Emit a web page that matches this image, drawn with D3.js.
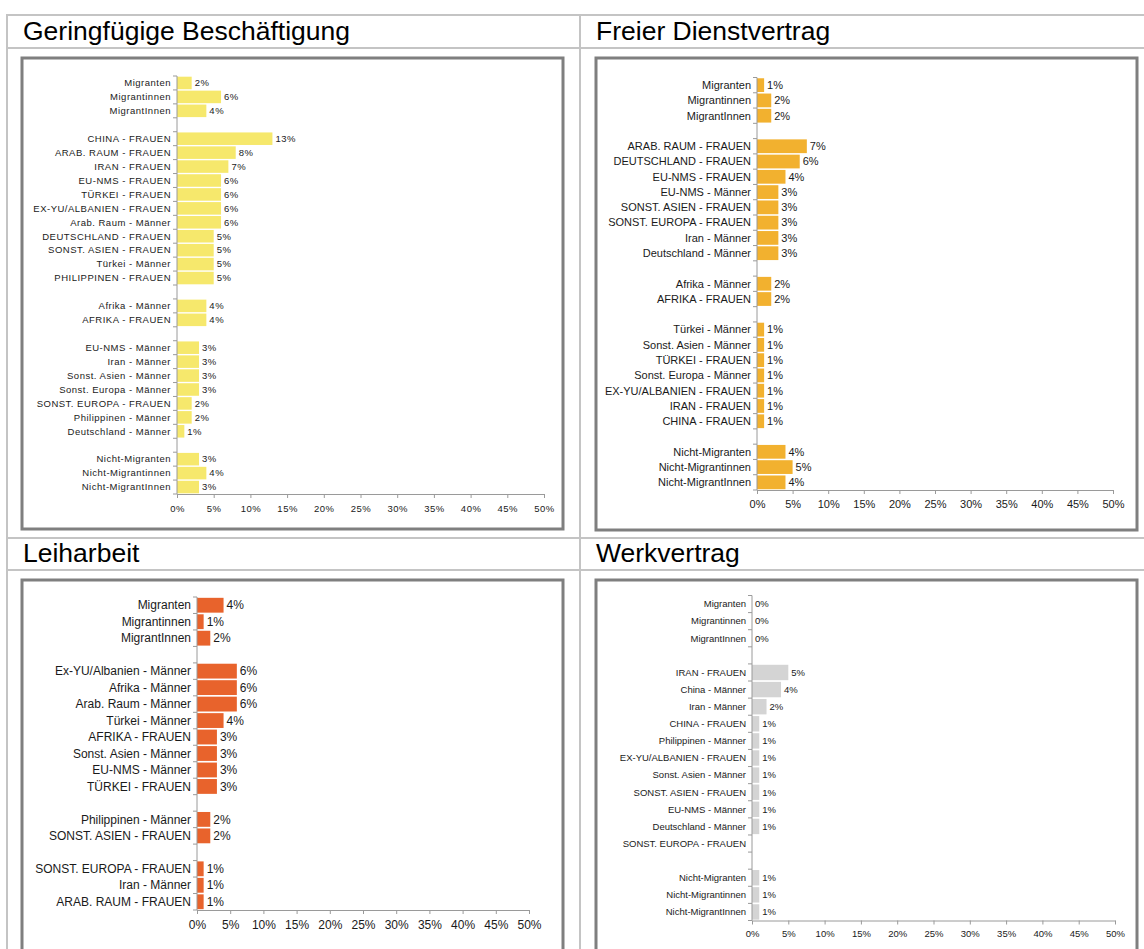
<!DOCTYPE html>
<html>
<head>
<meta charset="utf-8">
<style>
  body { margin: 0; background: #fff; }
  svg { display: block; font-family: "Liberation Sans", Arial, sans-serif; }
  .axis line, .axis path { stroke: #9a9a9a; }
</style>
</head>
<body>
<svg width="1144" height="949"></svg>
<script src="https://d3js.org/d3.v7.min.js"></script>
<script>

// ---- data (empty label = blank spacer row) ----
var geringLabels = ["Migranten", "Migrantinnen", "MigrantInnen", "",
  "CHINA - FRAUEN", "ARAB. RAUM - FRAUEN", "IRAN - FRAUEN", "EU-NMS - FRAUEN", "TÜRKEI - FRAUEN",
  "EX-YU/ALBANIEN - FRAUEN", "Arab. Raum - Männer", "DEUTSCHLAND - FRAUEN", "SONST. ASIEN - FRAUEN",
  "Türkei - Männer", "PHILIPPINEN - FRAUEN", "",
  "Afrika - Männer", "AFRIKA - FRAUEN", "",
  "EU-NMS - Männer", "Iran - Männer", "Sonst. Asien - Männer", "Sonst. Europa - Männer",
  "SONST. EUROPA - FRAUEN", "Philippinen - Männer", "Deutschland - Männer", "",
  "Nicht-Migranten", "Nicht-Migrantinnen", "Nicht-MigrantInnen"];
var geringValues = [2, 6, 4, null,
  13, 8, 7, 6, 6, 6, 6, 5, 5, 5, 5, null,
  4, 4, null,
  3, 3, 3, 3, 2, 2, 1, null,
  3, 4, 3];

var freierLabels = ["Migranten", "Migrantinnen", "MigrantInnen", "",
  "ARAB. RAUM - FRAUEN", "DEUTSCHLAND - FRAUEN", "EU-NMS - FRAUEN", "EU-NMS - Männer",
  "SONST. ASIEN - FRAUEN", "SONST. EUROPA - FRAUEN", "Iran - Männer", "Deutschland - Männer", "",
  "Afrika - Männer", "AFRIKA - FRAUEN", "",
  "Türkei - Männer", "Sonst. Asien - Männer", "TÜRKEI - FRAUEN", "Sonst. Europa - Männer",
  "EX-YU/ALBANIEN - FRAUEN", "IRAN - FRAUEN", "CHINA - FRAUEN", "",
  "Nicht-Migranten", "Nicht-Migrantinnen", "Nicht-MigrantInnen"];
var freierValues = [1, 2, 2, null,
  7, 6, 4, 3, 3, 3, 3, 3, null,
  2, 2, null,
  1, 1, 1, 1, 1, 1, 1, null,
  4, 5, 4];

var leihLabels = ["Migranten", "Migrantinnen", "MigrantInnen", "",
  "Ex-YU/Albanien - Männer", "Afrika - Männer", "Arab. Raum - Männer", "Türkei - Männer",
  "AFRIKA - FRAUEN", "Sonst. Asien - Männer", "EU-NMS - Männer", "TÜRKEI - FRAUEN", "",
  "Philippinen - Männer", "SONST. ASIEN - FRAUEN", "",
  "SONST. EUROPA - FRAUEN", "Iran - Männer", "ARAB. RAUM - FRAUEN"];
var leihValues = [4, 1, 2, null,
  6, 6, 6, 4, 3, 3, 3, 3, null,
  2, 2, null,
  1, 1, 1];

var werkLabels = ["Migranten", "Migrantinnen", "MigrantInnen", "",
  "IRAN - FRAUEN", "China - Männer", "Iran - Männer", "CHINA - FRAUEN", "Philippinen - Männer",
  "EX-YU/ALBANIEN - FRAUEN", "Sonst. Asien - Männer", "SONST. ASIEN - FRAUEN", "EU-NMS - Männer",
  "Deutschland - Männer", "SONST. EUROPA - FRAUEN", "",
  "Nicht-Migranten", "Nicht-Migrantinnen", "Nicht-MigrantInnen"];
var werkValues = [0, 0, 0, null,
  5, 4, 2, 1, 1, 1, 1, 1, 1, 1, null, null,
  1, 1, 1];

var xTicks = [0, 5, 10, 15, 20, 25, 30, 35, 40, 45, 50];
var titles = ["Geringfügige Beschäftigung", "Freier Dienstvertrag", "Leiharbeit", "Werkvertrag"];

var svg = d3.select("svg");

// ---- table grid + titles ----
var grid = svg.append("g").attr("stroke", "#c4c4c4").attr("stroke-width", 2);
[15, 48, 538, 570].forEach(function(y) {
  grid.append("line").attr("x1", 7).attr("x2", 1144).attr("y1", y).attr("y2", y);
});
[7, 580].forEach(function(x) {
  grid.append("line").attr("x1", x).attr("x2", x).attr("y1", 14).attr("y2", 949);
});

svg.selectAll(".title")
  .data(titles)
  .enter().append("text")
  .attr("class", "title")
  .attr("x", function(d, i) { return i % 2 ? 596 : 23; })
  .attr("y", function(d, i) { return i < 2 ? 40 : 562; })
  .style("font-size", "26.5px")
  .attr("fill", "#000")
  .text(function(d) { return d; });

// frames
var frames = [[22, 58, 541, 471], [596, 58, 541, 472], [22, 580, 541, 380], [596, 580, 541, 380]];
svg.selectAll(".frame")
  .data(frames)
  .enter().append("rect")
  .attr("x", function(d) { return d[0]; })
  .attr("y", function(d) { return d[1]; })
  .attr("width", function(d) { return d[2]; })
  .attr("height", function(d) { return d[3]; })
  .attr("fill", "#fff")
  .attr("stroke", "#7f7f7f")
  .attr("stroke-width", 3);

function drawPanel(cfg) {
  var n = cfg.labels.length;
  var x = d3.scaleLinear().domain([0, 50]).range([cfg.x0, cfg.x1]);
  var y = d3.scaleBand().domain(d3.range(n)).range([cfg.y0, cfg.y1]).paddingInner(0.1).paddingOuter(0.05);
  var step = (cfg.y1 - cfg.y0) / n;
  var g = svg.append("g").style("font-size", cfg.font + "px").style("letter-spacing", cfg.spacing + "px");

  var rows = d3.range(n).map(function(i) { return {i: i, label: cfg.labels[i], value: cfg.values[i]}; });

  g.selectAll(".bar")
    .data(rows.filter(function(d) { return d.value != null; }))
    .enter().append("rect")
    .attr("x", x(0))
    .attr("y", function(d) { return y(d.i); })
    .attr("width", function(d) { return x(d.value) - x(0); })
    .attr("height", y.bandwidth())
    .attr("fill", cfg.color);

  g.selectAll(".cat")
    .data(rows.filter(function(d) { return d.label; }))
    .enter().append("text")
    .attr("x", x(0) - 6)
    .attr("y", function(d) { return y(d.i) + y.bandwidth() / 2; })
    .attr("dy", "0.35em")
    .attr("text-anchor", "end")
    .attr("fill", "#1a1a1a")
    .text(function(d) { return d.label; });

  g.selectAll(".val")
    .data(rows.filter(function(d) { return d.value != null; }))
    .enter().append("text")
    .attr("x", function(d) { return x(d.value) + 3; })
    .attr("y", function(d) { return y(d.i) + y.bandwidth() / 2; })
    .attr("dy", "0.35em")
    .attr("fill", "#1a1a1a")
    .text(function(d) { return d.value + "%"; });

  // category axis with ticks between rows
  var ya = g.append("g").attr("class", "axis");
  ya.append("line").attr("x1", x(0)).attr("x2", x(0)).attr("y1", cfg.y0).attr("y2", cfg.y1);
  ya.selectAll(".tk")
    .data(d3.range(n + 1))
    .enter().append("line")
    .attr("x1", x(0) - 4).attr("x2", x(0))
    .attr("y1", function(d) { return cfg.y0 + d * step; })
    .attr("y2", function(d) { return cfg.y0 + d * step; });

  var xa = g.append("g")
    .attr("class", "axis")
    .attr("transform", "translate(0," + cfg.y1 + ")")
    .call(d3.axisBottom(x).tickValues(xTicks).tickSize(4).tickSizeOuter(0)
      .tickFormat(function(d) { return d + "%"; }));
  xa.selectAll("text")
    .attr("fill", "#1a1a1a")
    .attr("y", cfg.tickLabelY)
    .style("font-size", cfg.font + "px")
    .style("font-family", "Liberation Sans, Arial, sans-serif");
}

drawPanel({labels: geringLabels, values: geringValues, color: "#f6e86c",
  x0: 177, x1: 544, y0: 76, y1: 494, font: 9.5, spacing: 0.5, tickLabelY: 11});
drawPanel({labels: freierLabels, values: freierValues, color: "#f2b12f",
  x0: 757, x1: 1113, y0: 77.5, y1: 490, font: 11, spacing: 0, tickLabelY: 10});
drawPanel({labels: leihLabels, values: leihValues, color: "#e8632c",
  x0: 197, x1: 529, y0: 597, y1: 910, font: 12, spacing: 0, tickLabelY: 10});
drawPanel({labels: werkLabels, values: werkValues, color: "#d4d4d4",
  x0: 752, x1: 1115, y0: 595.5, y1: 920.5, font: 9.5, spacing: 0, tickLabelY: 10});

</script>
</body>
</html>
